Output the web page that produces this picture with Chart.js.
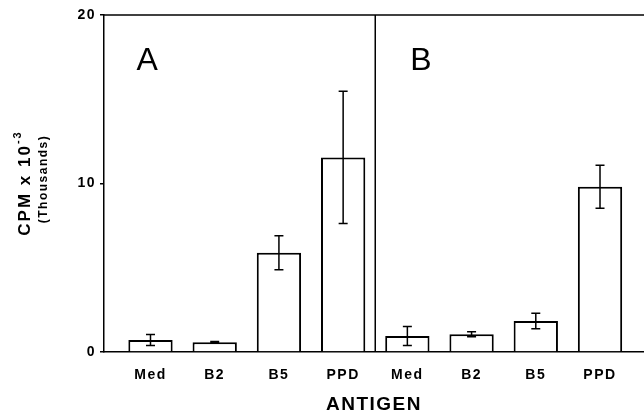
<!DOCTYPE html>
<html><head><meta charset="utf-8">
<script src="https://cdn.jsdelivr.net/npm/chart.js@4"></script>
<style>html,body{margin:0;padding:0;background:#fff}#wrap{width:644px;height:416px}</style>
</head><body><div id="wrap"><canvas id="c" width="644" height="416"></canvas></div>
<script>
const categories = ['Med','B2','B5','PPD','Med','B2','B5','PPD'];
const panelAValues = [0.71, 0.58, 5.89, 11.55];
const panelAErrors = [0.33, 0.04, 1.01, 3.93];
const panelBValues = [0.95, 1.05, 1.84, 9.81];
const panelBErrors = [0.57, 0.15, 0.46, 1.28];
const yTicks = [0, 10, 20];
const panelLabels = ['A', 'B'];

const values = panelAValues.concat(panelBValues);
const errors = panelAErrors.concat(panelBErrors);
const points = values.map((v, i) => ({x: i, y: v}));

const FONT = '"Liberation Sans", Arial, Helvetica, sans-serif';

const spacingPlugin = {
  id: 'spacing',
  beforeDraw(chart) { chart.ctx.letterSpacing = '1.5px'; },
  afterDraw(chart) { chart.ctx.letterSpacing = '0px'; }
};

const decorPlugin = {
  id: 'decor',
  afterDatasetsDraw(chart) {
    const ctx = chart.ctx;
    const xs = chart.scales.x, ys = chart.scales.y;
    const area = chart.chartArea;
    ctx.save();
    ctx.strokeStyle = '#000';
    ctx.lineWidth = 1.5;
    ctx.beginPath();
    ctx.moveTo(area.left, area.top);
    ctx.lineTo(area.right, area.top);
    ctx.stroke();
    const dx = xs.getPixelForValue(3.5);
    ctx.beginPath();
    ctx.moveTo(dx, area.top);
    ctx.lineTo(dx, area.bottom);
    ctx.stroke();
    values.forEach((v, i) => {
      const x = xs.getPixelForValue(i);
      const yHi = ys.getPixelForValue(v + errors[i]);
      const yLo = ys.getPixelForValue(Math.max(0, v - errors[i]));
      ctx.beginPath();
      ctx.moveTo(x, yHi); ctx.lineTo(x, yLo);
      ctx.moveTo(x - 4.5, yHi); ctx.lineTo(x + 4.5, yHi);
      ctx.moveTo(x - 4.5, yLo); ctx.lineTo(x + 4.5, yLo);
      ctx.stroke();
    });
    ctx.fillStyle = '#000';
    ctx.letterSpacing = '0px';
    ctx.font = '32px ' + FONT;
    ctx.textAlign = 'center';
    ctx.textBaseline = 'alphabetic';
    const letterY = area.top + 55;
    ctx.fillText(panelLabels[0], xs.getPixelForValue(-0.05), letterY);
    ctx.fillText(panelLabels[1], xs.getPixelForValue(4.21), letterY);
    ctx.restore();
  },
  afterDraw(chart) {
    const ctx = chart.ctx;
    ctx.save();
    ctx.fillStyle = '#000';
    ctx.letterSpacing = '2px';
    ctx.translate(25, 183);
    ctx.rotate(-Math.PI / 2);
    ctx.textBaseline = 'middle';
    ctx.textAlign = 'left';
    const mainFont = 'bold 17px ' + FONT;
    const supFont = 'bold 11px ' + FONT;
    const mainText = 'CPM x 10';
    const supText = '-3';
    ctx.font = mainFont;
    const wMain = ctx.measureText(mainText).width;
    ctx.font = supFont;
    const wSup = ctx.measureText(supText).width;
    const start = -(wMain + wSup) / 2;
    ctx.font = mainFont;
    ctx.fillText(mainText, start, 0);
    ctx.font = supFont;
    ctx.fillText(supText, start + wMain, -7);
    ctx.restore();

    ctx.save();
    ctx.fillStyle = '#000';
    ctx.letterSpacing = '1.5px';
    ctx.translate(44, 179);
    ctx.rotate(-Math.PI / 2);
    ctx.textBaseline = 'middle';
    ctx.textAlign = 'center';
    ctx.font = 'bold 12px ' + FONT;
    ctx.fillText('(Thousands)', 0, 0);
    ctx.restore();
  }
};

new Chart(document.getElementById('c'), {
  type: 'bar',
  data: {
    datasets: [{
      data: points,
      backgroundColor: '#fff',
      borderColor: '#000',
      borderWidth: 2,
      categoryPercentage: 1,
      barPercentage: 0.69
    }]
  },
  options: {
    responsive: false,
    animation: false,
    events: [],
    layout: {padding: {top: 15, left: 0, right: 0, bottom: 0}},
    plugins: {legend: {display: false}, tooltip: {enabled: false}},
    scales: {
      x: {
        type: 'linear',
        offset: false,
        min: -0.724,
        max: 7.685,
        afterBuildTicks(axis) { axis.ticks = categories.map((c, i) => ({value: i})); },
        afterFit(axis) { axis.height = 64; },
        grid: {display: false, offset: false},
        border: {display: true, color: '#000', width: 1.5},
        ticks: {
          autoSkip: false,
          maxRotation: 0,
          padding: 7,
          color: '#000',
          font: {family: FONT, size: 14, weight: 'bold'},
          callback(value, index) { return categories[index]; }
        },
        title: {
          display: true,
          text: 'ANTIGEN',
          color: '#000',
          font: {family: FONT, size: 19, weight: 'bold'},
          padding: {top: 0, bottom: 0}
        }
      },
      y: {
        min: 0,
        max: 20,
        afterBuildTicks(axis) { axis.ticks = yTicks.map(v => ({value: v})); },
        afterFit(axis) { axis.width = 104; },
        grid: {drawOnChartArea: false, drawTicks: true, tickLength: 4, color: '#000', lineWidth: 1.5},
        border: {display: true, color: '#000', width: 1.5},
        ticks: {
          padding: 4,
          color: '#000',
          font: {family: FONT, size: 14, weight: 'bold'}
        }
      }
    }
  },
  plugins: [spacingPlugin, decorPlugin]
});
</script>
</body></html>
